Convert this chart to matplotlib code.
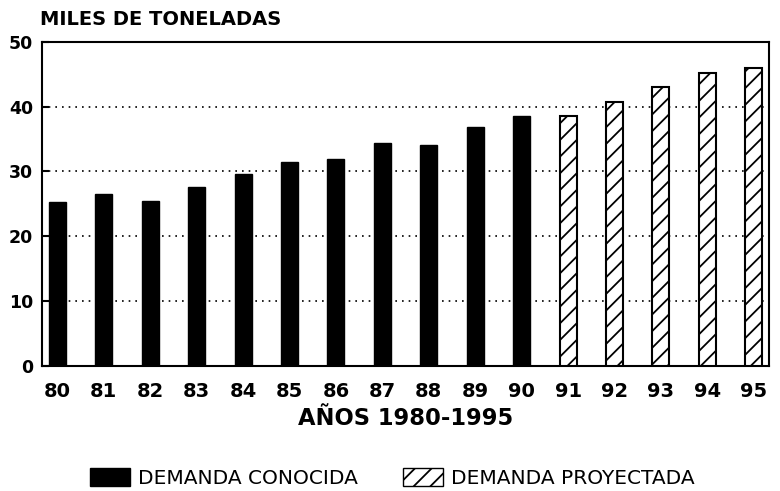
import matplotlib
matplotlib.use("Agg")
import matplotlib.pyplot as plt
from matplotlib.patches import Patch

# Demanda anual (miles de toneladas)
years_known = ["80", "81", "82", "83", "84", "85", "86", "87", "88", "89", "90"]
demand_known = [25.3, 26.5, 25.4, 27.6, 29.6, 31.4, 31.9, 34.4, 34.0, 36.9, 38.6]
years_proj = ["91", "92", "93", "94", "95"]
demand_proj = [38.6, 40.7, 43.0, 45.1, 45.9]

yticks = [0, 10, 20, 30, 40, 50]

plt.rcParams["font.family"] = "DejaVu Sans"
plt.rcParams["hatch.linewidth"] = 1.3

fig = plt.figure(figsize=(7.8, 4.91), dpi=100)
ax = fig.add_axes([0.054, 0.2546, 0.932, 0.6606])

labels = years_known + years_proj
x_known = list(range(len(years_known)))
x_proj = list(range(len(years_known), len(labels)))
width = 0.365

ax.bar(x_known, demand_known, width=width, color="black", edgecolor="black",
       zorder=3)
ax.bar(x_proj, demand_proj, width=width, color="white", edgecolor="black",
       linewidth=1.5, hatch="//", zorder=3)

ax.set_xlim(-0.33, 15.33)
ax.set_ylim(0, 50)
ax.set_xticks(range(len(labels)))
ax.set_xticklabels(labels, fontsize=14, fontweight="bold")
ax.set_yticks(yticks)
ax.set_yticklabels([str(v) for v in yticks], fontsize=12.5, fontweight="bold")
ax.tick_params(axis="x", length=0, pad=11.5)
ax.tick_params(axis="y", direction="in", length=5, width=1.5, pad=6.5)

ax.set_axisbelow(True)
ax.yaxis.grid(True, color="black", linestyle=(0, (1, 3)), linewidth=1.2)
for s in ax.spines.values():
    s.set_linewidth(1.5)

ax.set_xlabel("AÑOS 1980-1995", fontsize=16.3, fontweight="bold", labelpad=4)
fig.text(0.051, 0.961, "MILES DE TONELADAS", fontsize=14, fontweight="bold",
         ha="left", va="center")

handles = [Patch(facecolor="black", edgecolor="black"),
           Patch(facecolor="white", edgecolor="black", hatch="//")]
fig.legend(handles, ["DEMANDA CONOCIDA", "DEMANDA PROYECTADA"], ncol=2,
           loc="center left", bbox_to_anchor=(90 / 780, 1 - 478 / 491),
           frameon=False, fontsize=14.5, handlelength=2.0, handleheight=1.0,
           handletextpad=0.4, columnspacing=2.2, borderpad=0,
           borderaxespad=0)

fig.savefig("out.png", dpi=100)
